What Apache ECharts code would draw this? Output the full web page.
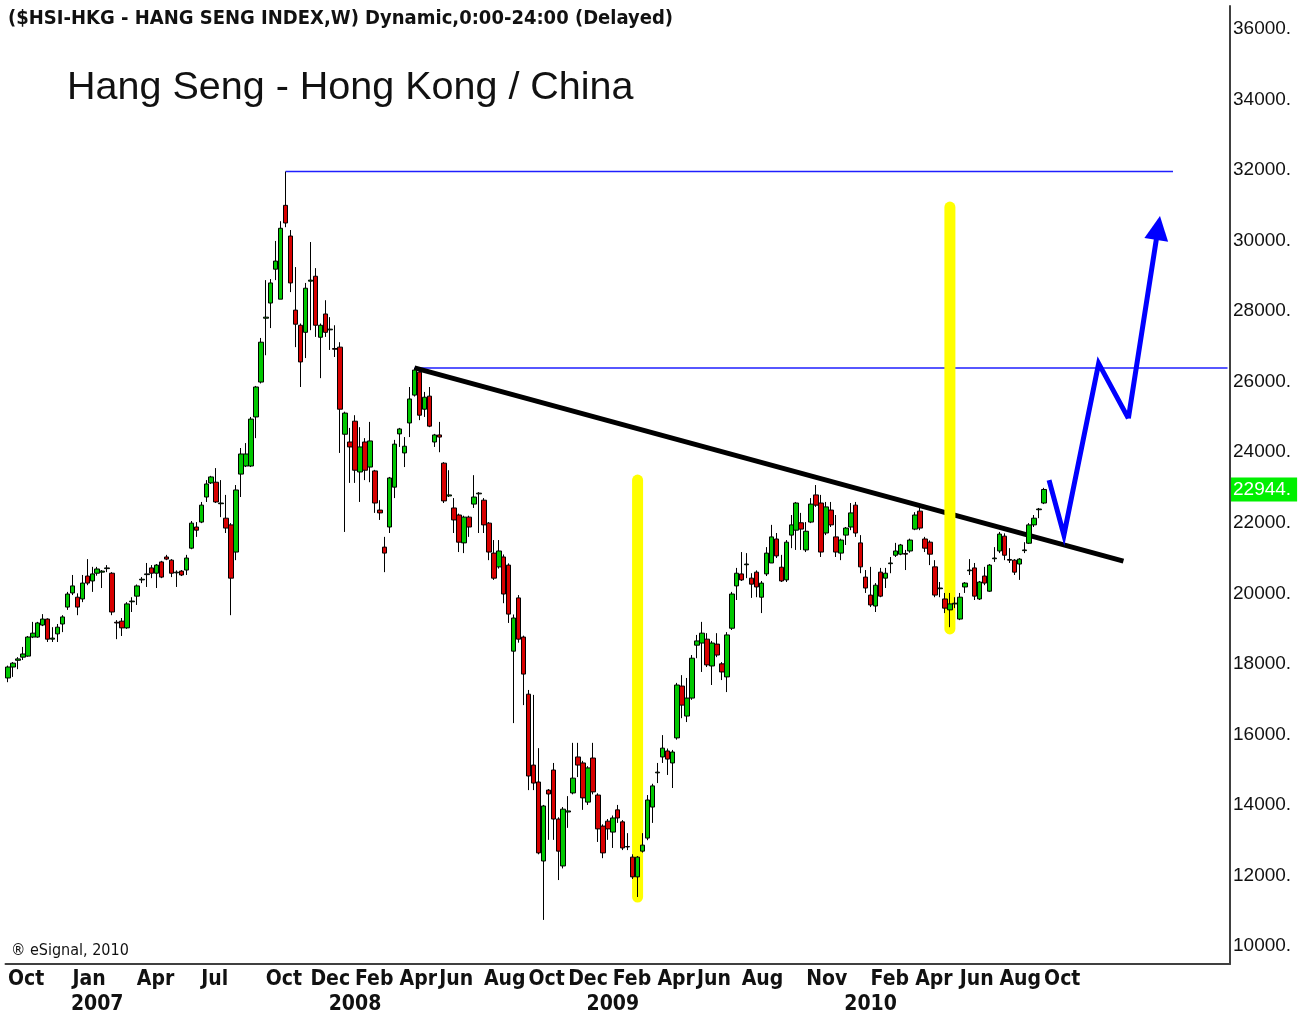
<!DOCTYPE html>
<html><head><meta charset="utf-8">
<script src="https://cdn.jsdelivr.net/npm/echarts@6/dist/echarts.min.js"></script>
<style>html,body{margin:0;padding:0;background:#fff}#c{width:1306px;height:1016px}</style>
</head><body><div id="c"></div>
<script>
// ---- weekly candles, first week ends 2006-10-06 ----
const startDate = '2006-10-06';
const totalWeeks = 247;
const opens = [
17600,17910,18100,18190,18220,18760,18760,19100,19270,18700,
18850,19130,19610,20010,19890,19840,20490,20350,20570,20600,
20700,20570,19180,19210,19020,19760,19920,20380,20530,20720,
20570,20890,21030,20940,20580,20630,20660,21280,21880,22020,
22730,23130,23150,22540,22130,21940,21170,23380,23610,23610,
25000,25990,27800,28230,29190,28340,31000,30130,28030,27600,
27400,28850,28990,27260,27920,27470,26940,26980,24510,24290,
24880,23440,24290,23580,23470,22360,21310,21880,23010,24520,
23980,24830,25620,26270,25220,25590,24290,24490,23690,22760,
22420,22220,21430,22160,22530,22820,22640,21990,21140,20750,
21030,20800,18360,19870,18760,17140,15130,14650,12410,14420,
14990,13600,12270,13800,14340,15360,15190,14080,15330,14280,
13400,13540,13230,13860,13520,12820,12520,11960,12690,13060,
13940,14910,15360,15530,15190,15900,17370,16520,17030,18530,
18590,18700,17940,18560,18000,17630,19010,20210,20550,20810,
20430,20600,19890,20550,20860,21540,20740,20380,21650,21790,
22000,21230,22020,22790,22560,21710,22360,21600,21140,21650,
21880,22500,21430,20460,19950,19640,20600,20430,20840,21080,
21110,21130,21200,21820,22330,21540,21450,20750,20130,19840,
19530,19700,19270,20180,20640,20720,19840,20490,20060,20980,
21200,21620,20960,20940,20830,21210,21420,21940,22370,22560];
const closes = [
17910,18020,18140,18280,18760,18870,19160,19270,18700,18730,
19040,19330,19980,20210,19610,20290,20290,20550,20690,20630,
20720,19470,19160,19020,19700,19780,20210,20400,20550,20570,
20800,20460,20970,20570,20600,20520,21000,21990,21790,22500,
23100,23300,22590,22560,21850,20430,22930,23950,23950,24940,
25850,27120,27830,28800,29420,30350,30500,28800,27630,26560,
28650,28880,27600,27600,27400,27490,26920,25220,25110,24150,
23490,24150,23490,24320,22560,22280,21140,23270,24230,24660,
24170,25510,26330,25050,25560,24740,24490,24430,22620,22790,
22080,21450,22160,21880,22730,22840,21940,21170,20430,21200,
19980,19410,19300,18700,17710,14820,14620,12640,13970,14310,
13600,12690,13880,13830,14760,15130,14200,15050,14370,13320,
12640,13320,13630,13630,12780,12810,11960,12520,12860,14140,
14540,14930,15610,15300,15500,17400,16830,17030,18160,18650,
18870,17970,18590,18250,17770,18820,19980,20570,20380,20830,
20260,20180,20290,21140,21600,21060,20350,21450,21940,22560,
21820,21760,22530,22500,21170,22450,21940,21170,21510,21850,
22280,21710,20750,20150,19670,20230,19920,20570,20860,21200,
21370,21110,21510,22220,21850,21280,21110,19950,20150,19580,
19700,19720,19890,20290,20660,19920,20320,20290,20800,21000,
21680,21080,20940,20600,20970,21230,21940,22130,22390,22944];
const lows = [
17480,17630,17850,18110,18200,18730,18740,19070,18620,18620,
18620,18900,19530,19950,19380,19750,20230,20040,20500,20150,
20600,19380,18700,18790,18990,19470,19670,20290,20180,20430,
20150,20430,20940,20460,20180,20490,20520,21250,21600,21990,
22590,23100,22560,22160,21710,19380,20940,22730,23580,23580,
24400,25950,26750,27520,28880,28340,30380,28540,26980,25850,
26670,27460,27270,26100,27270,26900,26700,23980,21740,23130,
23130,22590,23210,23150,22280,22080,20600,21710,22700,24150,
23580,24430,25580,24910,25000,24710,24150,24000,22560,22730,
21710,21170,21140,21600,22420,21710,21710,20940,20380,20700,
19720,19160,16320,18600,16830,14420,14420,12600,10740,13010,
13010,11870,12200,13350,14300,14790,13860,14000,14300,12950,
12490,13010,12780,13490,12720,12720,11900,11390,12650,13000,
13490,14620,15190,14850,14480,15850,16460,16350,16980,18160,
17770,17910,17400,18190,17540,17200,18960,19810,20350,20430,
19870,19890,19440,20490,20860,21000,20320,20320,21280,21230,
21230,21170,21990,22450,21030,21650,21880,21030,20940,21370,
21790,21600,20570,20010,19610,19470,19890,20150,20570,21030,
21080,20660,21150,21790,21790,21170,20800,19890,19890,19440,
19040,19580,19240,20010,20520,19810,19810,20230,20040,20890,
21140,20940,20860,20520,20380,21140,21400,21880,22130,22530];
const highs = [
17950,18050,18190,18480,18790,19190,19190,19410,19290,19040,
19130,19380,20040,20520,20000,20520,20970,20750,20750,20660,
20800,20600,19240,19300,19750,19890,20250,20460,20860,20800,
20830,20920,21090,20970,20650,20660,21090,22050,22020,22590,
23210,23330,23550,23210,22790,21990,23070,24120,24260,25000,
25880,27240,28880,28910,29990,30550,31958,30300,29250,27650,
28800,29960,29220,27650,28310,27830,27600,27120,25150,24690,
25050,24710,24400,24860,23500,22640,21600,23300,24350,24690,
24430,25850,26390,26300,25710,25850,24520,24860,23720,23490,
22700,22260,22200,22200,23350,22870,22700,22020,21510,21510,
21100,20850,19400,19950,18800,17260,17120,15610,14000,14450,
15190,13650,13940,14250,15760,15760,15250,15100,15760,14330,
13450,13600,13700,14000,13570,13200,12600,12550,13200,14280,
14600,15190,15980,15600,15560,17460,17680,17600,18250,18820,
19190,18870,18650,18870,18050,18900,20040,20720,21170,21140,
20570,20650,20350,21310,21940,21710,21090,21510,22220,22590,
22280,22020,22700,23070,22790,22590,22590,22220,21550,21880,
22560,22590,21650,20660,20750,20290,20720,20720,21030,21430,
21400,21230,21550,22300,22420,21600,21500,20940,20320,20010,
20010,19890,20010,20320,20970,20860,20350,20750,20830,21310,
21740,21700,21280,20970,21000,21450,21990,22220,22420,22990];

// axis labels
const monthTicks = ['2006-10','2007-01','2007-04','2007-07','2007-10','2007-12','2008-02','2008-04','2008-06','2008-08','2008-10','2008-12','2009-02','2009-04','2009-06','2009-08','2009-11','2010-02','2010-04','2010-06','2010-08','2010-10'];
const monthNames = ['Jan','Feb','Mar','Apr','May','Jun','Jul','Aug','Sep','Oct','Nov','Dec'];
const yearTicks = ['2007','2008','2009','2010'];
const yTickValues = [10000,12000,14000,16000,18000,20000,22000,24000,26000,28000,30000,32000,34000,36000];

// annotations: [week index, value]
const resistanceTop = [[56,31960],[235,31960]];
const resistanceMid = [[82,26390],[246,26390]];
const trendLine = [[82,26390],[225,20915]];
const yellowBar1 = [[127,23211],[127,11389]];
const yellowBar2 = [[190,30950],[190,18990]];
const projection = [[210,23211],[213,21652],[220,26519],[226,24960]];
const projectionArrow = [[226,24960],[232,30360]];

// ---- build ----
const cats = [];
{ let t = Date.UTC(2006,9,6); for (let i=0;i<totalWeeks;i++){ cats.push(new Date(t).toISOString().slice(0,10)); t += 7*86400000; } }
const monthLabel = {}, yearLabel = {};
{ let prev = null; cats.forEach((c,i)=>{ const m = new Date(Date.parse(c) - 4*86400000); const key = m.toISOString().slice(0,7);
  if (key !== prev) { if (monthTicks.includes(key)) monthLabel[i] = monthNames[m.getUTCMonth()];
    const y = key.slice(0,4); if (key.slice(5) === '02' && yearTicks.includes(y)) yearLabel[i] = y; }
  prev = key; }); }
const toCat = arr => arr.map(p => [cats[p[0]], p[1]]);
const ohlc = opens.map((o,i)=>[o, closes[i], lows[i], highs[i]]);
const lastClose = closes[closes.length-1];
const narrow = "'Liberation Sans Narrow','Arial Narrow','DejaVu Sans Condensed','Liberation Sans',Arial,sans-serif";
const sans = "'Liberation Sans',Arial,sans-serif";

const chart = echarts.init(document.getElementById('c'));
chart.setOption({
  animation: false,
  backgroundColor: '#fff',
  title: [
    {text: '($HSI-HKG - HANG SENG INDEX,W) Dynamic,0:00-24:00 (Delayed)', left: 8, top: 9, padding: 0,
     textStyle: {fontFamily: narrow, fontWeight: 'bold', fontSize: 20, color: '#111'}},
    {text: 'Hang Seng - Hong Kong / China', left: 67, top: 68, padding: 0,
     textStyle: {fontFamily: sans, fontWeight: 'normal', fontSize: 39.5, color: '#111'}},
    {text: '\u00AE eSignal, 2010', left: 11, top: 943, padding: 0,
     textStyle: {fontFamily: narrow, fontWeight: 'normal', fontSize: 16, color: '#111'}}
  ],
  grid: {left: 5.5, right: 76, top: 6, bottom: 52, containLabel: false},
  xAxis: [
    {type: 'category', data: cats, boundaryGap: true,
     axisLine: {lineStyle: {color: '#404040', width: 2}}, axisTick: {show: false}, splitLine: {show: false},
     axisLabel: {interval: (i) => monthLabel[i] !== undefined, formatter: (v,i) => monthLabel[i] || '',
       align: 'left', margin: 5, fontFamily: narrow, fontWeight: 'bold', fontSize: 21, color: '#111'}},
    {type: 'category', data: cats, boundaryGap: true, position: 'bottom',
     axisLine: {show: false}, axisTick: {show: false}, splitLine: {show: false},
     axisLabel: {interval: (i) => yearLabel[i] !== undefined, formatter: (v,i) => yearLabel[i] || '',
       align: 'center', margin: 30, fontFamily: narrow, fontWeight: 'bold', fontSize: 21, color: '#111'}}
  ],
  yAxis: {type: 'value', position: 'right', min: 9490, max: 36652, splitNumber: 13, scale: true,
    axisLine: {show: true, lineStyle: {color: '#404040', width: 2}}, axisTick: {show: false}, splitLine: {show: false},
    axisLabel: {margin: 3, fontSize: 19, color: '#111', fontFamily: sans,
      formatter: v => yTickValues.includes(Math.round(v)) ? Math.round(v) + '.' : ''}},
  series: [
    {type: 'line', data: toCat(resistanceTop), symbol: 'none', z: 1, silent: true,
     lineStyle: {color: '#1f1fff', width: 1.6}},
    {type: 'line', data: toCat(resistanceMid), symbol: 'none', z: 1, silent: true,
     lineStyle: {color: '#1f1fff', width: 1.6}},
    {type: 'line', data: toCat(trendLine), symbol: 'none', z: 2, silent: true,
     lineStyle: {color: '#000', width: 5}},
    {type: 'line', data: toCat(yellowBar1), symbol: 'none', z: 3, silent: true,
     lineStyle: {color: '#ffff00', width: 11, cap: 'round'}},
    {type: 'line', data: toCat(yellowBar2), symbol: 'none', z: 3, silent: true,
     lineStyle: {color: '#ffff00', width: 11, cap: 'round'}},
    {type: 'candlestick', data: ohlc, z: 4, barWidth: 5, clip: false,
     itemStyle: {color: '#00c800', color0: '#d80000', borderColor: '#000', borderColor0: '#000', borderWidth: 1},
     markLine: {silent: true, symbol: 'none', animation: false,
       lineStyle: {width: 0, color: 'rgba(0,0,0,0)', type: 'solid'},
       label: {show: true, opacity: 1, position: 'end', distance: 1, formatter: lastClose + '.', color: '#fff',
         backgroundColor: '#00f000', fontSize: 19, fontFamily: sans, padding: [3, 6, 2, 2]},
       data: [{yAxis: lastClose}]}},
    {type: 'line', data: toCat(projection), symbol: 'none', z: 5, silent: true,
     lineStyle: {color: '#0000ff', width: 5, join: 'miter'},
     markLine: {silent: true, animation: false, symbol: ['none', 'triangle'], symbolSize: [24, 24],
       lineStyle: {color: '#0000ff', width: 5, type: 'solid'}, label: {show: false},
       data: [[{coord: [cats[projectionArrow[0][0]], projectionArrow[0][1]]}, {coord: [cats[projectionArrow[1][0]], projectionArrow[1][1]]}]]}}
  ]
});
</script></body></html>
